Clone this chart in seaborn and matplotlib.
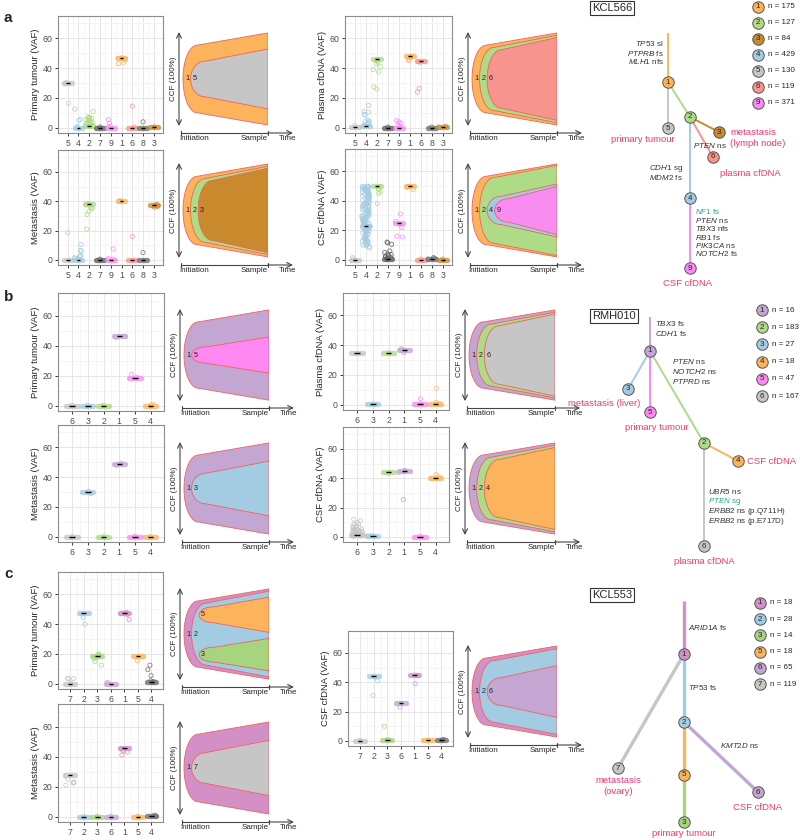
import numpy as np
import pandas as pd
import matplotlib
matplotlib.use("Agg")
import matplotlib.pyplot as plt
import seaborn as sns

sns.set_theme(style="white")
plt.rcParams["font.family"] = ["Liberation Sans", "DejaVu Sans"]
plt.rcParams["mathtext.fontset"] = "custom"
plt.rcParams["mathtext.rm"] = "Liberation Sans"
plt.rcParams["mathtext.it"] = "Liberation Sans:italic"
plt.rcParams["mathtext.bf"] = "Liberation Sans:bold"

# ---------------- data: panel a (KCL566) ----------------
a_order = ["5", "4", "2", "7", "9", "1", "6", "8", "3"]
a_colors = {"1": "#FBB45C", "2": "#AEDB86", "3": "#C98A2E", "4": "#A3CCE3", "5": "#C6C6C6",
            "6": "#F7948D", "7": "#5E5E5E", "8": "#707070", "9": "#F88CF0"}

a_primary_med = [30, 0, 1, 0, 0, 46.5, 0, 0, 0.5]
a_primary_pts = {"5": [30.5, 29.5, 16.5], "4": [12.5, 5.5, 5, 1, 0.5],
                 "2": [11, 7.5, 7, 6.5, 6, 6, 5.5, 5, 5, 4.5, 4, 3.5, 3.5, 3, 2.5, 2, 2, 1.5, 1],
                 "7": [0.5], "9": [5.5, 3, 1, 0.5], "1": [47, 46.5, 45.5, 44, 43],
                 "6": [14.5, 0.5], "8": [4], "3": [0.5]}

a_met_med = [0, 0, 38, 0, 0, 40.5, 0, 0, 37.5]
a_met_pts = {"5": [18.5], "4": [10.5, 6.5, 6, 3, 2.5, 2, 1.5, 1, 0.5],
             "2": [38.5, 37.5, 36, 35.5, 35, 33, 31, 21], "7": [0.5], "9": [7.5, 1, 0.5],
             "1": [40.5, 40], "6": [16], "8": [5], "3": [38, 37, 36.5, 36]}

a_plasma_med = [0.5, 1, 46, 0, 0, 48, 44.5, 0, 0.5]
a_plasma_pts = {"5": [1.5], "4": [15, 11, 10.5, 9, 8.5, 5, 4.5, 4, 3.5, 3, 2.5, 2, 1.5, 1],
                "2": [45.5, 45, 44, 43, 41, 39, 37.5, 27.5, 26], "7": [0.5],
                "9": [5, 4, 3, 2, 1], "1": [48, 47, 46, 45], "6": [44.5, 44, 26.5, 24],
                "8": [0.5], "3": [1, 0.5]}

a_csf_med = [0, 23, 50, 0.5, 25, 50, 0, 0.5, 0]
a_csf_pts = {"5": [1.5, 0.5],
             "4": [49.8, 48.1, 46.7, 49.2, 44.9, 47.5, 43.2, 41.8, 45.6, 40.3, 48.9, 42.7, 39.1,
                   37.6, 44.1, 36.2, 38.8, 35.4, 41.2, 33.9, 46.1, 34.7, 32.3, 30.8, 37.1, 29.4,
                   31.6, 28.2, 35.9, 27.5, 26.1, 33.2, 25.3, 24.6, 29.9, 23.8, 22.4, 27.1, 21.7,
                   20.3, 25.9, 19.6, 18.2, 24.1, 17.4, 16.8, 21.1, 15.5, 14.7, 19.3, 13.6, 12.9,
                   17.9, 11.8, 11.2, 15.9, 10.4, 9.6, 13.3, 8.7, 8.1, 12.2, 22.9, 26.8, 31.1,
                   36.8, 40.9, 43.8, 47.1, 49.5, 45.2, 38.2, 34.1, 28.8, 23.3, 18.7, 14.2, 10.9,
                   20.8, 30.1, 39.7, 42.3, 32.9, 26.4, 16.3, 48.4, 44.5, 36.5, 27.9, 22.1, 49.9,
                   49.6, 48.7, 47.9, 46.3, 42.1, 39.4, 35.1, 30.4, 24.9, 19.9, 13.9, 9.9, 49.7,
                   41.5, 37.9, 33.6, 29.1, 25.6, 21.4, 17.1, 12.6, 45.9, 43.5, 38.5, 31.9],
             "2": [49.5, 48, 47.5, 46, 45, 38], "7": [12, 11.5, 10.5, 6, 5, 4, 3.5, 3, 2.5, 2, 1.5, 1, 0.5],
             "9": [31, 26, 24, 22, 16, 15.5], "1": [49.5, 49, 47.5], "6": [0.5],
             "8": [1.5, 1, 0.5], "3": [0.5]}

# fish plots: clone, parent, CCF at sample (%)
a_fish_primary = (["1", "5"], [None, "1"], [100, 65])
a_fish_met = (["1", "2", "3"], [None, "1", "2"], [100, 95, 91])
a_fish_plasma = (["1", "2", "6"], [None, "1", "2"], [100, 95, 90])
a_fish_csf = (["1", "2", "4", "9"], [None, "1", "2", "4"], [100, 97, 57, 52])

a_tree_parent = {"1": None, "5": "1", "2": "1", "3": "2", "6": "2", "4": "2", "9": "4"}
a_legend = ["1", "2", "3", "4", "5", "6", "9"]
a_n = [175, 127, 84, 429, 130, 119, 371]

# ---------------- data: panel b (RMH010) ----------------
b_order = ["6", "3", "2", "1", "5", "4"]
b_colors = {"1": "#C4A6D2", "2": "#AEDB86", "3": "#A3CCE3", "4": "#FBB45C", "5": "#FF88F2", "6": "#C6C6C6"}

b_primary_med = [0, 0, 0, 46.5, 18.5, 0]
b_primary_pts = {"6": [0.3], "3": [0.3], "2": [0.3], "1": [46, 45.5], "5": [21, 18.8], "4": [1, 0.5]}
b_met_med = [0, 30, 0, 49, 0, 0]
b_met_pts = {"6": [0.3], "3": [29, 30.5], "2": [0.3], "1": [48, 49.5], "5": [0.3], "4": [0.3]}
b_plasma_med = [34.5, 0.3, 35, 37, 0.3, 0.5]
b_plasma_pts = {"6": [34.5], "3": [0.5], "2": [35], "1": [37.5, 37, 36, 35], "5": [4, 0.5],
                "4": [11, 1.5, 1]}
b_csf_med = [1, 0.5, 44, 45, 0, 40.5]
b_csf_pts = {"6": [12, 11, 10, 9, 8.5, 7.5, 7, 6.5, 6, 5.5, 5, 4.5, 4, 3.5, 3, 3, 2.5, 2, 2, 1.5,
                   1.5, 1, 1, 0.5, 0.5, 6.2, 5.1, 4.2, 3.3, 2.7, 1.8, 1.2, 0.8, 0.3, 2.2, 3.8],
             "3": [1, 0.5], "2": [43.5], "1": [45.5, 44.5, 44, 25.5], "5": [0.5], "4": [42.5, 41, 40]}

b_fish_primary = (["1", "5"], [None, "1"], [100, 40])
b_fish_met = (["1", "3"], [None, "1"], [100, 60])
b_fish_plasma = (["1", "2", "6"], [None, "1", "2"], [100, 95, 91])
b_fish_csf = (["1", "2", "4"], [None, "1", "2"], [100, 95, 90])

b_tree_parent = {"1": None, "3": "1", "5": "1", "2": "1", "4": "2", "6": "2"}
b_legend = ["1", "2", "3", "4", "5", "6"]
b_n = [16, 183, 27, 18, 47, 167]

# ---------------- data: panel c (KCL553) ----------------
c_order = ["7", "2", "3", "6", "1", "5", "4"]
c_colors = {"1": "#D390C6", "2": "#A3CCE3", "3": "#A6D47F", "4": "#6E6E6E", "5": "#FBB45C",
            "6": "#C4A6D2", "7": "#C6C6C6"}

c_primary_med = [0, 47.5, 18.5, 0, 47.5, 18.5, 1.5]
c_primary_pts = {"7": [3.5, 3.5, 3.5, 0.5], "2": [47, 44.5, 40], "3": [20, 19.5, 19, 18, 17, 15, 12.5],
                 "6": [1, 0.5], "1": [48, 47, 46.5, 43], "5": [18, 15.5], "4": [12.5, 9.5, 5.5, 2, 1.5, 1]}
c_met_med = [27.5, 0, 0, 0, 45.5, 0, 0.5]
c_met_pts = {"7": [27, 25, 23, 22.5, 22.5, 21], "2": [0.3], "3": [0.3], "6": [0.3],
             "1": [45, 44, 43, 41], "5": [0.3], "4": [1, 0.5]}
c_csf_med = [0, 44, 0.5, 26, 45, 0.5, 0.5]
c_csf_pts = {"7": [0.3], "2": [43.5, 41, 31], "3": [10, 1], "6": [25.5, 23], "1": [44.5, 39],
             "5": [0.5], "4": [1, 0.5]}

c_fish_primary = (["1", "2", "5", "3"], [None, "1", "2", "2"], [100, 95, 39, 36])
c_fish_met = (["1", "7"], [None, "1"], [100, 60])
c_fish_csf = (["1", "2", "6"], [None, "1", "2"], [100, 94, 57])

c_tree_parent = {"1": None, "2": "1", "7": "1", "5": "2", "3": "5", "6": "2"}
c_legend = ["1", "2", "3", "5", "6", "7"]
c_n = [18, 28, 14, 18, 65, 119]

RED = "#EE3A72"
TEAL = "#22AA88"

# ---------------- helpers ----------------
W, H = 800, 840
fig = plt.figure(figsize=(8, 8.4), dpi=100)


def rect(l, t, r, b):
    return [l / W, 1 - b / H, (r - l) / W, (b - t) / H]


def vaf_panel(box, order, colors, med, pts, ylabel):
    ax = fig.add_axes(rect(*box))
    df = pd.DataFrame([(k, v) for k in order for v in pts[k]], columns=["cluster", "vaf"])
    sns.stripplot(data=df, x="cluster", y="vaf", hue="cluster", order=order, hue_order=order,
                  palette=colors, jitter=0.36, size=3.0, linewidth=0.6, legend=False, ax=ax, zorder=3)
    for coll in ax.collections:
        fc = coll.get_facecolors()
        coll.set_edgecolors(fc)
        coll.set_facecolors("none")
        coll.set_alpha(0.85)
    xs = np.arange(len(order))
    ax.hlines(med, xs - 0.36, xs + 0.36, colors=[colors[k] for k in order], lw=3.8,
              alpha=0.8, zorder=2, capstyle="round")
    ax.hlines(med, xs - 0.17, xs + 0.17, colors="black", lw=1.0, zorder=4)
    ax.set_xlim(-0.9, len(order) - 0.15)
    ax.set_ylim(-3.5, 75)
    ax.set_yticks([0, 20, 40, 60])
    ax.set_yticks([10, 30, 50, 70], minor=True)
    ax.set_xticks(xs[:-1] + 0.5, minor=True)
    ax.grid(True, which="major", color="#E6E6E6", lw=0.7)
    ax.grid(True, which="minor", color="#F2F2F2", lw=0.5)
    ax.set_axisbelow(True)
    ax.set_facecolor("white")
    for sp in ax.spines.values():
        sp.set_color("#8C8C8C")
        sp.set_linewidth(0.8)
    ax.tick_params(axis="both", which="major", length=2.5, width=0.7, color="#333333",
                   labelsize=6.3, labelcolor="#4D4D4D", pad=1.5, bottom=True, left=True)
    ax.tick_params(which="minor", length=0)
    ax.set_xlabel("")
    ax.set_ylabel(ylabel, fontsize=6.8, labelpad=2)
    return ax


def fish_panel(box, spec, colors):
    clones, parents, ccf = spec
    ax = fig.add_axes(rect(*box))
    ax.set_xlim(0, 1)
    ax.set_ylim(-7.5, 100)
    ax.axis("off")
    T = np.linspace(0, 1, 600)
    kids = {}
    for c, p in zip(clones, parents):
        kids.setdefault(p, []).append(c)
    info = {}
    for c, p, f in zip(clones, parents, ccf):
        ws = 0.49 * f
        if p is None:
            depth, center = 0, 50.0
        else:
            depth = info[p]["depth"] + 1
            sib = kids[p]
            center = info[p]["center"]
            if len(sib) > 1:
                pws = info[p]["ws"]
                widths = [0.49 * ccf[clones.index(s)] for s in sib]
                gap = (2 * pws - 2 * sum(widths)) / (len(sib) + 1)
                top = info[p]["center"] + pws
                for s, w in zip(sib, widths):
                    if s == c:
                        center = top - gap - w
                        break
                    top -= gap + 2 * w
        t0 = 0.045 + 0.085 * depth
        tb = t0 + 0.16
        wb = max(ws - 13, 0.45 * ws)
        u = np.clip((T - t0) / (tb - t0), 0, 1)
        nose = wb * np.sqrt(np.clip(1 - (1 - u) ** 2, 0, 1))
        lin = wb + (ws - wb) * (T - tb) / (1 - tb)
        w = np.where(T < tb, nose, lin)
        top_, bot_ = center + w, center - w
        if p is not None:
            top_ = np.minimum(top_, info[p]["top"] - 1.3)
            bot_ = np.maximum(bot_, info[p]["bot"] + 1.3)
        ok = (T >= t0) & (top_ >= bot_)
        info[c] = dict(depth=depth, center=center, ws=ws, top=top_, bot=bot_)
        x = T[ok]
        ax.fill(np.r_[x, x[::-1]], np.r_[top_[ok], bot_[ok][::-1]], fc=colors[c],
                ec="#F0625E", lw=0.6, zorder=2 + depth)
        ax.text(t0 + 0.045, center, c, ha="center", va="center", fontsize=5.2,
                color="#222222", zorder=10)
    # axes decorations
    ax.annotate("", xy=(0, 100), xytext=(0, 0), annotation_clip=False,
                arrowprops=dict(arrowstyle="<->,head_length=0.3,head_width=0.15",
                                color="#444444", lw=0.8, shrinkA=0, shrinkB=0))
    ax.text(-0.065, 50, "CCF (100%)", rotation=90, ha="center", va="center", fontsize=5.8)
    ax.plot([0.02, 1], [-7.5, -7.5], color="#444444", lw=0.8, clip_on=False)
    for xt in (0.02, 1.0):
        ax.plot([xt, xt], [-9.5, -5.5], color="#444444", lw=0.8, clip_on=False)
    ax.annotate("", xy=(1.28, -7.5), xytext=(1.0, -7.5), annotation_clip=False,
                arrowprops=dict(arrowstyle="->,head_length=0.3,head_width=0.15",
                                color="#444444", lw=0.8, shrinkA=0, shrinkB=0))
    ax.text(0.0, -10, "Initiation", ha="left", va="top", fontsize=5.8)
    ax.text(1.0, -10, "Sample", ha="right", va="top", fontsize=5.8)
    ax.text(1.22, -10, "Time", ha="center", va="top", fontsize=5.8)
    return ax


def mut(gene, rest):
    return "$\\mathit{" + gene + "}$ " + rest


ov = fig.add_axes([0, 0, 1, 1])
ov.set_xlim(0, W)
ov.set_ylim(H, 0)
ov.axis("off")


def tree(parent, colors, xy, top, lw, legend, ns, leg_x, leg_y, leg_dy, name, name_xy):
    root = [c for c, p in parent.items() if p is None][0]
    ov.plot([top[0], xy[root][0]], [top[1], xy[root][1]], color=colors[root], lw=lw,
            solid_capstyle="butt", zorder=2)
    for c, p in parent.items():
        if p is not None:
            ov.plot([xy[p][0], xy[c][0]], [xy[p][1], xy[c][1]], color=colors[c], lw=lw,
                    solid_capstyle="butt", zorder=2)
    for c in parent:
        ov.scatter([xy[c][0]], [xy[c][1]], s=68, c=colors[c], edgecolors="#555555",
                   linewidths=0.7, zorder=3)
        ov.text(xy[c][0], xy[c][1], c, ha="center", va="center", fontsize=5.8, zorder=4)
    for i, (c, n) in enumerate(zip(legend, ns)):
        y = leg_y + i * leg_dy
        ov.scatter([leg_x], [y], s=68, c=colors[c], edgecolors="#555555", linewidths=0.7, zorder=3)
        ov.text(leg_x, y, c, ha="center", va="center", fontsize=5.8, zorder=4)
        ov.text(leg_x + 10, y, f"n = {n}", ha="left", va="center", fontsize=5.8)
    ov.text(name_xy[0], name_xy[1], name, ha="left", va="center", fontsize=8,
            bbox=dict(boxstyle="square,pad=0.2", fc="white", ec="#333333", lw=0.8))


def mut_block(x, y0, dy, ha, items):
    for i, (g, r, col) in enumerate(items):
        ov.text(x, y0 + i * dy, mut(g, r), ha=ha, va="center", fontsize=5.8, color=col)


def label(x, y, s, ha="center", ma="center"):
    ov.text(x, y, s, ha=ha, va="center", fontsize=6.8, color=RED, multialignment=ma)


# ---------------- panel a ----------------
vaf_panel((58, 16, 163, 133), a_order, a_colors, a_primary_med, a_primary_pts, "Primary tumour (VAF)")
vaf_panel((58, 150, 163, 265), a_order, a_colors, a_met_med, a_met_pts, "Metastasis (VAF)")
vaf_panel((345, 16, 452, 133), a_order, a_colors, a_plasma_med, a_plasma_pts, "Plasma cfDNA (VAF)")
vaf_panel((345, 149, 452, 265), a_order, a_colors, a_csf_med, a_csf_pts, "CSF cfDNA (VAF)")
fish_panel((179, 32, 268, 133), a_fish_primary, a_colors)
fish_panel((179, 163, 268, 265), a_fish_met, a_colors)
fish_panel((468, 32, 557, 133), a_fish_plasma, a_colors)
fish_panel((468, 163, 557, 265), a_fish_csf, a_colors)

a_xy = {"1": (668, 82), "5": (668, 128), "2": (690, 117), "3": (719, 132), "6": (713, 157),
        "4": (690, 198), "9": (690, 268)}
tree(a_tree_parent, a_colors, a_xy, (668, 33), 1.4, a_legend, a_n, 758, 7, 16, "KCL566", (592, 8))
D = "#333333"
mut_block(664, 44, 9, "right", [("TP53", "sl", D), ("PTPRB", "fs", D), ("MLH1", "nfs", D)])
mut_block(693, 145, 9, "left", [("PTEN", "ns", D)])
mut_block(683, 168, 9, "right", [("CDH1", "sg", D), ("MDM2", "fs", D)])
mut_block(695, 212, 8.4, "left", [("NF1", "fs", TEAL), ("PTEN", "ns", D), ("TBX3", "nfs", D),
                                  ("RB1", "fs", D), ("PIK3CA", "ns", D), ("NOTCH2", "fs", D)])
label(643, 140, "primary tumour")
label(730, 138, "metastasis\n(lymph node)", ha="left", ma="left")
label(750, 173, "plasma cfDNA")
label(688, 283, "CSF cfDNA")

# ---------------- panel b ----------------
vaf_panel((58, 293, 164, 411), b_order, b_colors, b_primary_med, b_primary_pts, "Primary tumour (VAF)")
vaf_panel((58, 425, 164, 542), b_order, b_colors, b_met_med, b_met_pts, "Metastasis (VAF)")
vaf_panel((343, 293, 449, 410), b_order, b_colors, b_plasma_med, b_plasma_pts, "Plasma cfDNA (VAF)")
vaf_panel((343, 427, 449, 542), b_order, b_colors, b_csf_med, b_csf_pts, "CSF cfDNA (VAF)")
fish_panel((180, 309, 269, 408), b_fish_primary, b_colors)
fish_panel((180, 442, 269, 542), b_fish_met, b_colors)
fish_panel((465, 309, 555, 408), b_fish_plasma, b_colors)
fish_panel((465, 442, 555, 542), b_fish_csf, b_colors)

b_xy = {"1": (650, 351), "3": (628, 389), "5": (650, 412), "2": (704, 443), "4": (738, 461),
        "6": (704, 546)}
tree(b_tree_parent, b_colors, b_xy, (650, 317), 1.4, b_legend, b_n, 762, 310, 17.2, "RMH010", (592, 316))
mut_block(655, 323, 10, "left", [("TBX3", "fs", D), ("CDH1", "fs", D)])
mut_block(672, 362, 9.5, "left", [("PTEN", "ns", D), ("NOTCH2", "ns", D), ("PTPRD", "ns", D)])
mut_block(708, 492, 9.7, "left", [("UBR5", "ns", D), ("PTEN", "sg", TEAL),
                                  ("ERBB2", "ns (p.Q711H)", D), ("ERBB2", "ns (p.E717D)", D)])
label(604, 404, "metastasis (liver)")
label(657, 428, "primary tumour")
label(747, 461, "CSF cfDNA", ha="left")
label(704, 562, "plasma cfDNA")

# ---------------- panel c ----------------
vaf_panel((58, 572, 163, 689), c_order, c_colors, c_primary_med, c_primary_pts, "Primary tumour (VAF)")
vaf_panel((58, 704, 163, 822), c_order, c_colors, c_met_med, c_met_pts, "Metastasis (VAF)")
vaf_panel((348, 631, 453, 746), c_order, c_colors, c_csf_med, c_csf_pts, "CSF cfDNA (VAF)")
fish_panel((180, 588, 269, 687), c_fish_primary, c_colors)
fish_panel((180, 721, 269, 822), c_fish_met, c_colors)
fish_panel((468, 645, 557, 745), c_fish_csf, c_colors)

c_xy = {"1": (684, 654), "2": (684, 722), "7": (618, 768), "5": (684, 775), "3": (684, 822),
        "6": (758, 792)}
tree(c_tree_parent, c_colors, c_xy, (684, 601), 2.4, c_legend, c_n, 760, 603, 16.2, "KCL553", (592, 595))
mut_block(688, 628, 9, "left", [("ARID1A", "fs", D)])
mut_block(688, 688, 9, "left", [("TP53", "fs", D)])
mut_block(720, 746, 9, "left", [("KMT2D", "ns", D)])
label(618, 786, "metastasis\n(ovary)")
label(758, 807, "CSF cfDNA")
label(684, 834, "primary tumour")

# panel letters
for s, y in (("a", 18), ("b", 297), ("c", 574)):
    ov.text(4, y, s, ha="left", va="center", fontsize=11, fontweight="bold")

fig.savefig("out.png", dpi=100)
